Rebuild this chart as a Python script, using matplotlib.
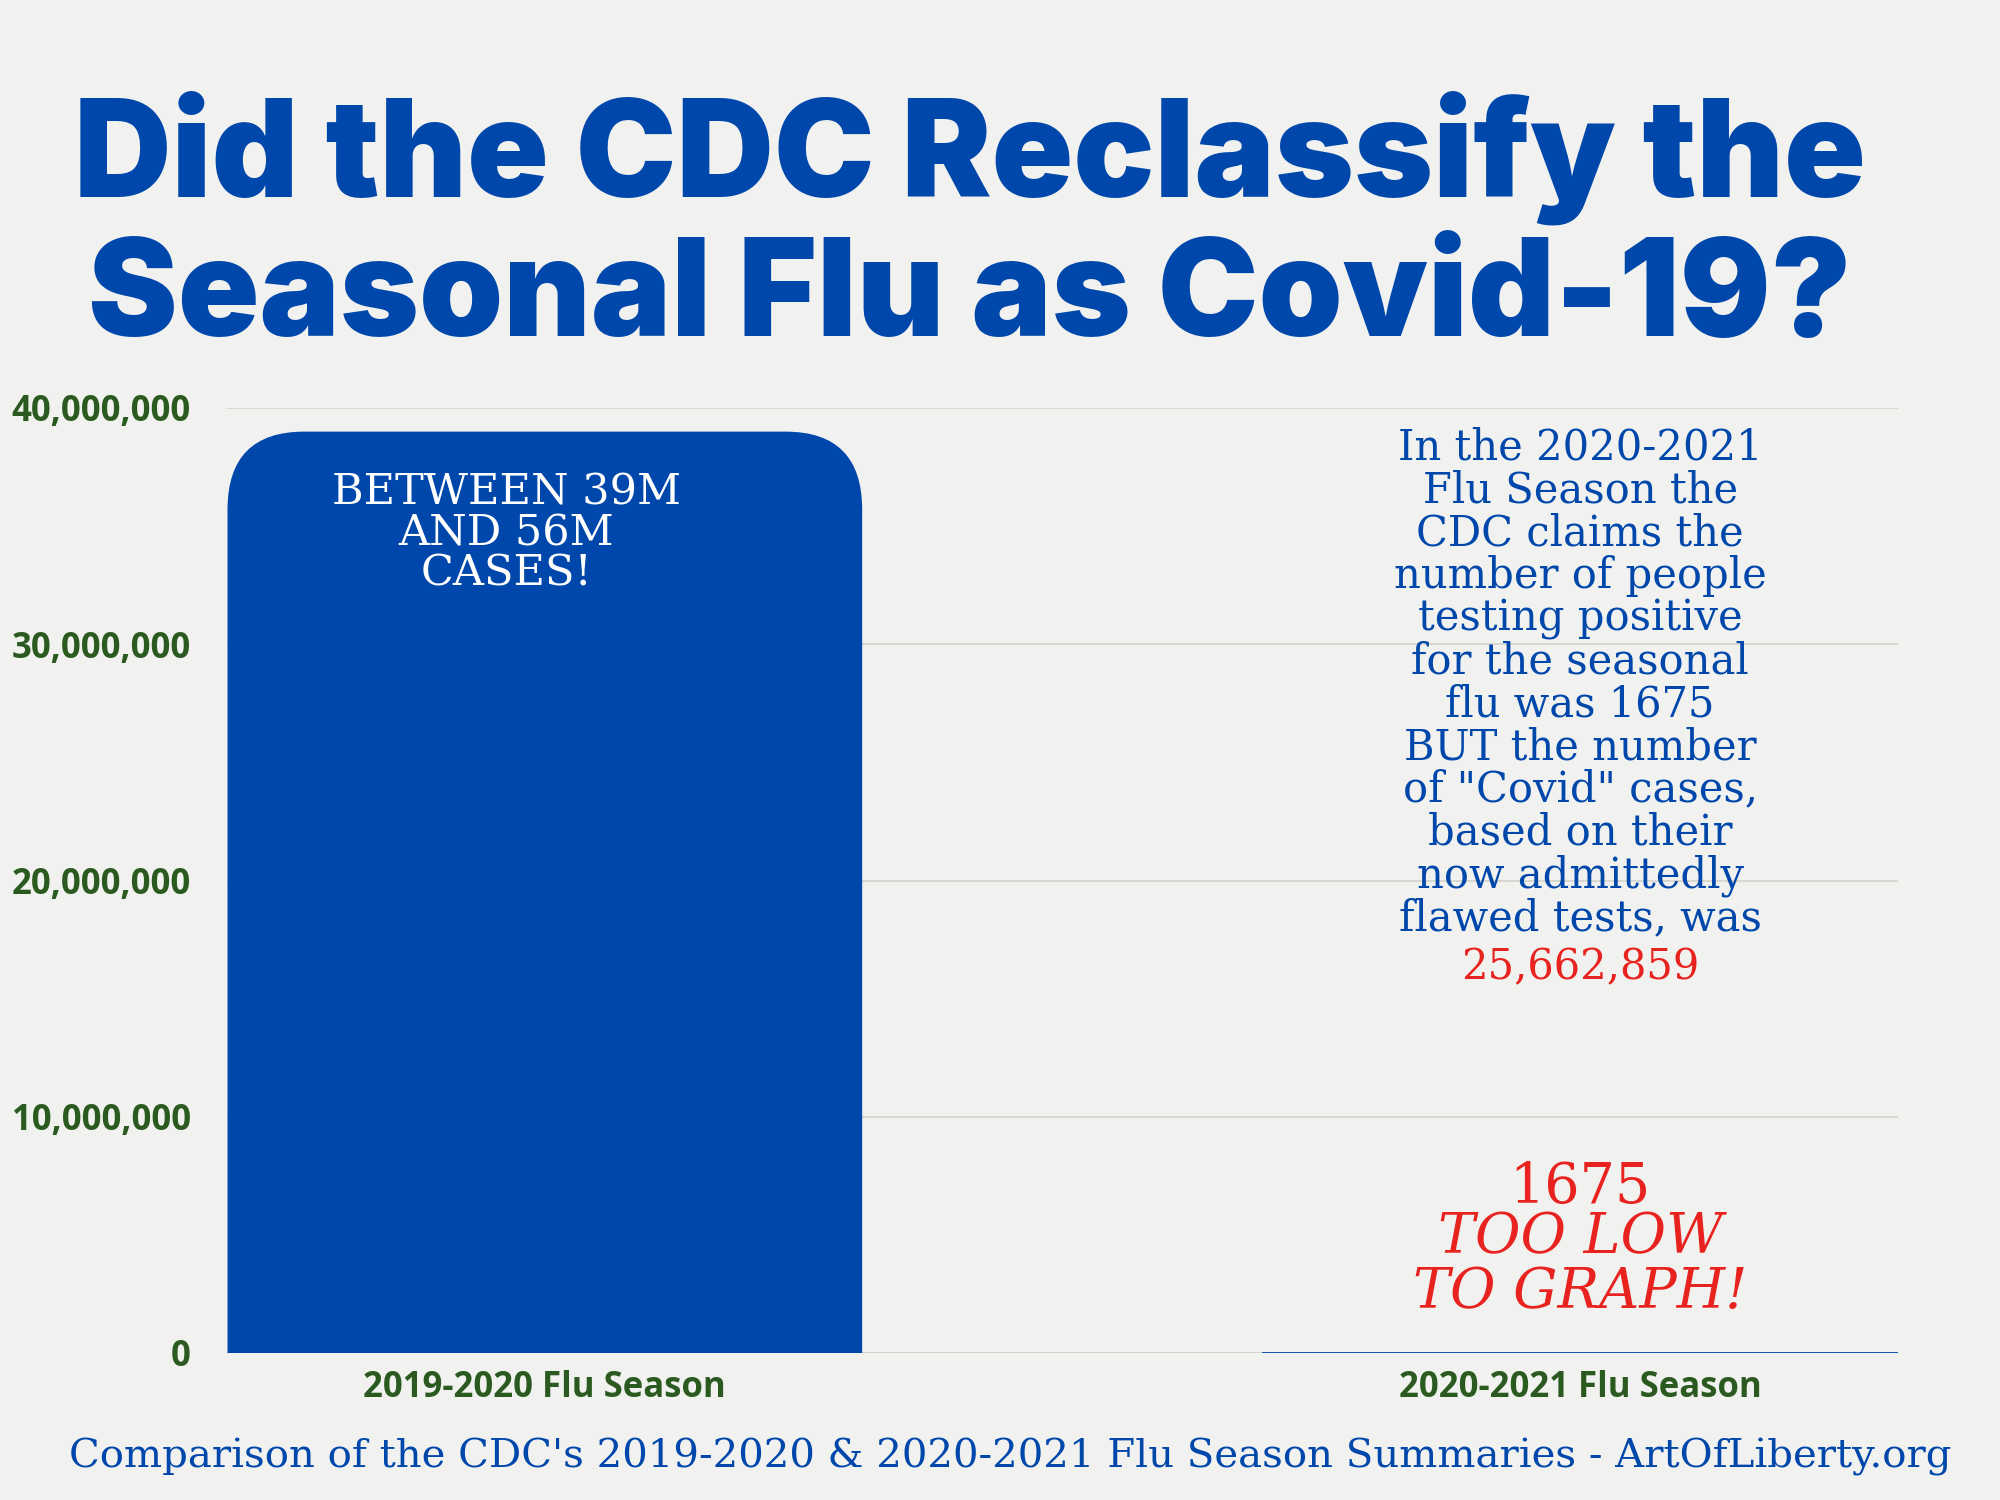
import matplotlib
matplotlib.use('Agg')
import matplotlib.pyplot as plt
from matplotlib.patches import FancyBboxPatch
import numpy as np

seasons = ['2019-2020 Flu Season', '2020-2021 Flu Season']
cases = [39000000, 1675]
yticks = [0, 10000000, 20000000, 30000000, 40000000]

blue = '#0047ab'
green = '#2a5a1f'
red = '#e8231f'
bg = '#f1f1ef'

fig = plt.figure(figsize=(20, 15), dpi=100, facecolor=bg)
ax = fig.add_axes([0.1135, 0.098, 0.8355, 0.63])
ax.set_facecolor(bg)

x = np.arange(len(seasons))
w = 0.613
bars = ax.bar(x, cases, width=w, color=blue)
# rounded top on first bar
b = bars[0]
b.set_visible(False)
r = 0.074
asp = 3.3e6 / r
ax.add_patch(FancyBboxPatch((b.get_x() + r, -5e6), w - 2 * r, cases[0] + 5e6 - r * asp,
                            boxstyle='round,pad=%f' % r, mutation_aspect=asp,
                            color=blue, clip_on=True, lw=0))
ax.plot([x[1] - w / 2, x[1] + w / 2], [0, 0], color=blue, lw=2, zorder=3)

ax.set_xlim(-0.307, 1.307)
ax.set_ylim(0, 40000000)
ax.set_yticks(yticks)
ax.set_yticklabels(['{:,}'.format(v) for v in yticks])
ax.set_xticks(x)
ax.set_xticklabels(seasons)
for lab in ax.get_xticklabels() + ax.get_yticklabels():
    lab.set_fontfamily('Open Sans')
    lab.set_fontweight('bold')
    lab.set_color(green)
    lab.set_fontsize(25)
ax.tick_params(length=0, pad=12)
ax.tick_params(axis='y', pad=26)
ax.grid(axis='y', color='#d4d4cc', lw=1.2)
ax.set_axisbelow(True)
for s in ax.spines.values():
    s.set_visible(False)
ax.axhline(0, color='#c8c8c0', lw=1.2, zorder=0)

ax.text(-0.037, 37300000, 'BETWEEN 39M\nAND 56M\nCASES!', color='white', ha='center', va='top',
        fontsize=31, family='DejaVu Serif', linespacing=0.95)

ax.text(1.0, 39200000, 'In the 2020-2021\nFlu Season the\nCDC claims the\nnumber of people\n'
        'testing positive\nfor the seasonal\nflu was 1675\nBUT the number\nof "Covid" cases,\n'
        'based on their\nnow admittedly\nflawed tests, was', color=blue, ha='center', va='top',
        fontsize=30, family='DejaVu Serif', linespacing=1.02)
ax.text(1.0, 17200000, '25,662,859', color=red, ha='center', va='top', fontsize=30, family='DejaVu Serif')
ax.text(1.0, 7000000, '1675', color=red, ha='center', va='center', fontsize=40, family='DejaVu Serif')
ax.text(1.0, 3700000, 'TOO LOW\nTO GRAPH!', color=red, ha='center', va='center', fontsize=40,
        family='DejaVu Serif', style='italic', linespacing=1.0)

fig.text(0.485, 0.895, 'Did the CDC Reclassify the', color=blue, ha='center', va='center',
         fontsize=97, family='Inter', fontweight='black')
fig.text(0.485, 0.8, 'Seasonal Flu as Covid-19?', color=blue, ha='center', va='center',
         fontsize=97, family='Inter', fontweight='black')
fig.text(0.505, 0.029, "Comparison of the CDC's 2019-2020 & 2020-2021 Flu Season Summaries - ArtOfLiberty.org",
         color=blue, ha='center', va='center', fontsize=29, family='DejaVu Serif')

fig.savefig('out.png', facecolor=bg)
